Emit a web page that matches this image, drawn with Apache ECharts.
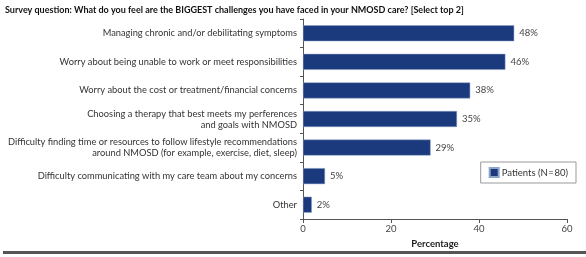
<!DOCTYPE html>
<html>
<head>
<meta charset="utf-8">
<script src="https://cdn.jsdelivr.net/npm/echarts@6/dist/echarts.min.js"></script>
<style>
  html, body { margin: 0; padding: 0; background: #fff; }
  #chart { width: 586px; height: 257px; }
</style>
</head>
<body>
<div id="chart"></div>
<script>
const titleText = 'Survey question: What do you feel are the BIGGEST challenges you have faced in your NMOSD care? [Select top 2]'
const categories = [
  'Managing chronic and/or debilitating symptoms',
  'Worry about being unable to work or meet responsibilities',
  'Worry about the cost or treatment/financial concerns',
  'Choosing a therapy that best meets my perferences\nand goals with NMOSD',
  'Difficulty finding time or resources to follow lifestyle recommendations\naround NMOSD (for example, exercise, diet, sleep)',
  'Difficulty communicating with my care team about my concerns',
  'Other'
]
const patients = [48, 46, 38, 35, 29, 5, 2]
const seriesName = 'Patients (N\u200a=\u200a80)'
const xTicks = [0, 20, 40, 60]

const font = 'Lato, "Liberation Sans", sans-serif'
const chart = echarts.init(document.getElementById('chart'), null, { renderer: 'canvas' })

const options = {
  backgroundColor: '#fff',
  animation: false,
  textStyle: { fontFamily: font },
  title: {
    text: titleText,
    left: 0,
    top: 1,
    textStyle: { fontFamily: font, fontSize: 9, fontWeight: 'bold', color: '#111' }
  },
  // 图例
  legend: {
    right: 10,
    top: 162,
    padding: [5, 8, 5, 8],
    borderColor: '#999',
    borderWidth: 1,
    itemWidth: 9,
    itemHeight: 9,
    itemGap: 4,
    icon: 'rect',
    textStyle: { fontFamily: font, fontSize: 9.5, color: '#333', padding: [0, 0, 0, -2] },
    data: [seriesName]
  },
  grid: { left: 303, right: 19, top: 19, bottom: 38 },
  xAxis: {
    type: 'value',
    min: xTicks[0],
    max: xTicks[xTicks.length - 1],
    interval: 20,
    name: 'Percentage',
    nameLocation: 'middle',
    nameGap: 19,
    nameTextStyle: { fontFamily: font, fontSize: 9.5, fontWeight: 'bold', color: '#222' },
    axisLine: { show: true, lineStyle: { color: '#555', width: 1 } },
    axisTick: { show: true, length: 4, lineStyle: { color: '#555' } },
    axisLabel: { fontFamily: font, fontSize: 9.5, color: '#444', margin: 5 },
    splitLine: { show: false }
  },
  yAxis: {
    type: 'category',
    inverse: true,
    data: categories,
    axisLine: { show: true, lineStyle: { color: '#555', width: 1 } },
    axisTick: { show: true, length: 3, alignWithLabel: false, lineStyle: { color: '#555' } },
    axisLabel: {
      fontFamily: font,
      fontSize: 9.3,
      color: '#333',
      margin: 6,
      lineHeight: 11,
      align: 'right'
    }
  },
  series: [
    {
      name: seriesName,
      type: 'bar',
      data: patients,
      barWidth: 16,
      itemStyle: { color: '#1b3a7d', borderColor: '#8ea3c8', borderWidth: 0.5 },
      label: {
        show: true,
        position: 'right',
        distance: 5,
        formatter: '{c}%',
        fontFamily: font,
        fontSize: 9.5,
        color: '#444'
      }
    }
  ],
  graphic: [
    {
      type: 'rect',
      shape: { x: 3, y: 251, width: 583, height: 3 },
      style: { fill: '#555' }
    }
  ]
}

chart.setOption(options)
</script>
</body>
</html>
